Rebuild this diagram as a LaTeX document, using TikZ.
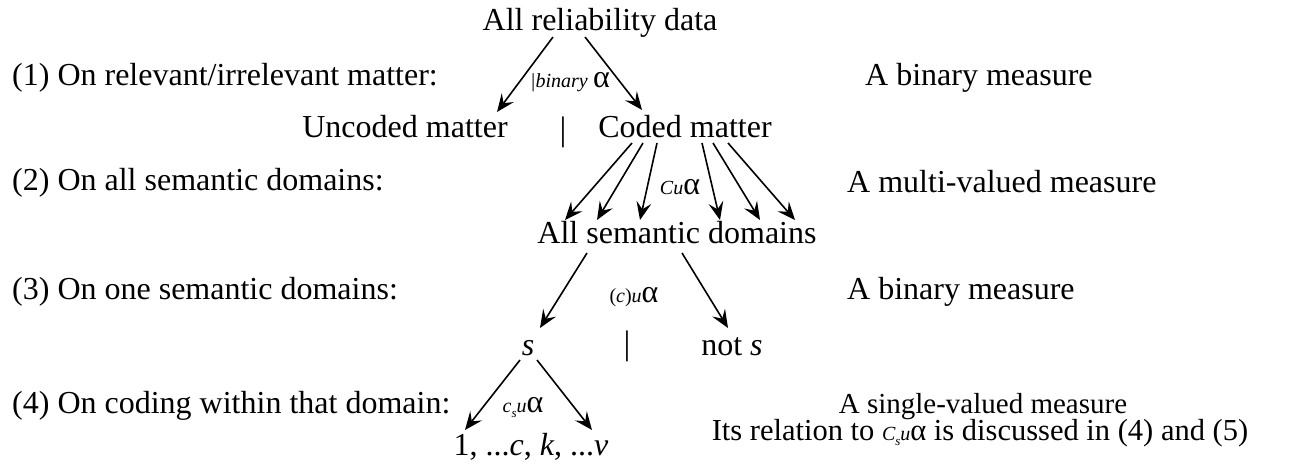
\documentclass[tikz,border=0pt]{standalone}
\usepackage{fontspec}
\setmainfont{Liberation Serif}
\usetikzlibrary{arrows.meta,calc}
\newcommand\sml[1]{{\fontsize{20}{20}\selectfont\itshape #1}}
\newcommand\sbs[1]{\raisebox{-5pt}{\fontsize{13}{13}\selectfont\itshape #1}}
\begin{document}
\begin{tikzpicture}[x=1pt,y=-1pt,
  every node/.style={font=\fontsize{32}{38}\selectfont,inner sep=0pt,anchor=base},
  row/.style={anchor=base west},
  sep/.style={font=\fontsize{34}{34}\selectfont},
  arr/.style={line width=1.6pt,-{Stealth[length=18pt,width=15pt,inset=7pt]}}]
\useasboundingbox (0,0) rectangle (1290,470);
% levels of the tree
\node (data) at (600,31) {All reliability data};
\node (uncoded) at (405,138) {Uncoded matter};
\node[sep] (bar1) at (563,141) {|};
\node (coded) at (685,138) {Coded matter};
\node (sem) at (677,244) {All semantic domains};
\node (s) at (528,355) {\textit{s}};
\node[sep] (bar2) at (627,354) {|};
\node (nots) at (732,355) {not \textit{s}};
\node (vals) at (531,455) {1, ...\textit{c}, \textit{k}, ...\textit{v}};
% measures on the arrows
\node (lb1) at (570,88) {\sml{|binary}\,α};
\node (lb2) at (680,195) {\sml{Cu}α};
\node (lb3) at (634,302) {{\fontsize{20}{20}\selectfont(\textit{c})\textit{u}}α};
\node (lb4) at (523,412) {\sml{c}\sbs{s}\sml{u}α};
% left column
\node[row] (q1) at (12,86) {(1) On relevant/irrelevant matter:};
\node[row] (q2) at (12,191) {(2) On all semantic domains:};
\node[row] (q3) at (12,299) {(3) On one semantic domains:};
\node[row] (q4) at (12,413) {(4) On coding within that domain:};
% right column
\node[row] (m1) at (865,86) {A binary measure};
\node[row] (m2) at (847,193) {A multi-valued measure};
\node[row] (m3) at (847,299) {A binary measure};
\node[font=\fontsize{29}{34}\selectfont] (m4) at (983,413) {A single-valued measure};
\node[font=\fontsize{30.5}{35}\selectfont] (m5) at (980,440) {Its relation to \sml{C}\sbs{s}\sml{u}α is discussed in (4) and (5)};
% arrows
\draw[arr] ($(data.base)+(-47,6)$) -- ($(uncoded.base)+(92,-26)$);
\draw[arr] ($(data.base)+(-15,6)$) -- ($(coded.base)+(-43,-28)$);
\foreach \a/\b in {-53/-112,-42/-80,-28/-37,17/43,28/83,43/118}
  \draw[arr] ($(coded.base)+(\a,5)$) -- ($(sem.base)+(\b,-24)$);
\draw[arr] ($(sem.base)+(-90,9)$) -- ($(s.base)+(12,-27)$);
\draw[arr] ($(sem.base)+(5,9)$) -- ($(nots.base)+(-4,-27)$);
\draw[arr] ($(s.base)+(-8,5)$) -- ($(vals.base)+(-66,-25)$);
\draw[arr] ($(s.base)+(9,5)$) -- ($(vals.base)+(61,-25)$);
\end{tikzpicture}
\end{document}
